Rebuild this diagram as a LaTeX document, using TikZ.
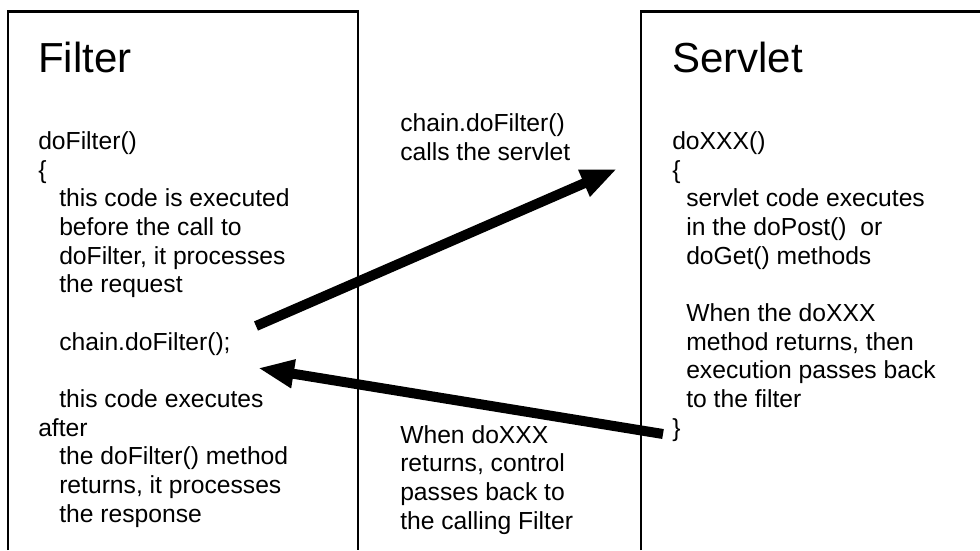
\documentclass[tikz,border=0pt]{standalone}
\usepackage{fontspec}
\setmainfont{Liberation Sans}
\usetikzlibrary{arrows.meta,positioning}
\newcommand{\ind}{\hspace*{15.75pt}}
\newcommand{\sind}{\hspace*{10.5pt}}

\begin{document}
\begin{tikzpicture}[x=0.75pt,y=-0.75pt,
  boxline/.style={line width=2pt},
  titletext/.style={anchor=base west,inner sep=0pt,font=\fontsize{31.5}{36}\selectfont},
  codetext/.style={anchor=base west,inner sep=0pt,align=left,font=\fontsize{18.5}{21.5}\selectfont},
  passarrow/.style={line width=7.5pt,-{Triangle[length=27pt,width=20pt]}}]
  \useasboundingbox (0,0) rectangle (980,550);
  % the two boxes, open at the bottom
  \draw[boxline] (8,550) -- (8,11.5) -- (358,11.5) -- (358,550);
  \draw[boxline] (641,550) -- (641,11.5) -- (980,11.5);
  % filter side (anchored on the last line)
  \node[titletext] (filtertitle) at (38,72) {Filter};
  \node[codetext] (filtercode) at (38,522) {doFilter()\\ \{\\
    \ind this code is executed\\ \ind before the call to\\
    \ind doFilter, it processes\\ \ind the request\\[21.5pt]
    \ind chain.doFilter();\\[21.5pt]
    \ind this code executes\\ after\\ \ind the doFilter() method\\
    \ind returns, it processes\\ \ind the response};
  % servlet side
  \node[titletext] (servlettitle) at (672,72) {Servlet};
  \node[codetext] (servletcode) at (672,436) {doXXX()\\ \{\\
    \sind servlet code executes\\ \sind in the doPost()\ \ or\\
    \sind doGet() methods\\[21.5pt]
    \sind When the doXXX\\ \sind method returns, then\\
    \sind execution passes back\\ \sind to the filter\\ \}};
  % notes between the boxes
  \node[codetext] (callnote) at (400,160) {chain.doFilter()\\ calls the servlet};
  \node[codetext] (returnnote) at (400,529) {When doXXX\\ returns, control\\ passes back to\\ the calling Filter};
  \coordinate (callstart) at (256,326);
  \coordinate (callend) at (617,169);
  \coordinate (returnstart) at (663,434);
  \coordinate (returnend) at (258,368);
  \draw[passarrow] (callstart) -- (callend);
  \draw[passarrow] (returnstart) -- (returnend);
\end{tikzpicture}
\end{document}
